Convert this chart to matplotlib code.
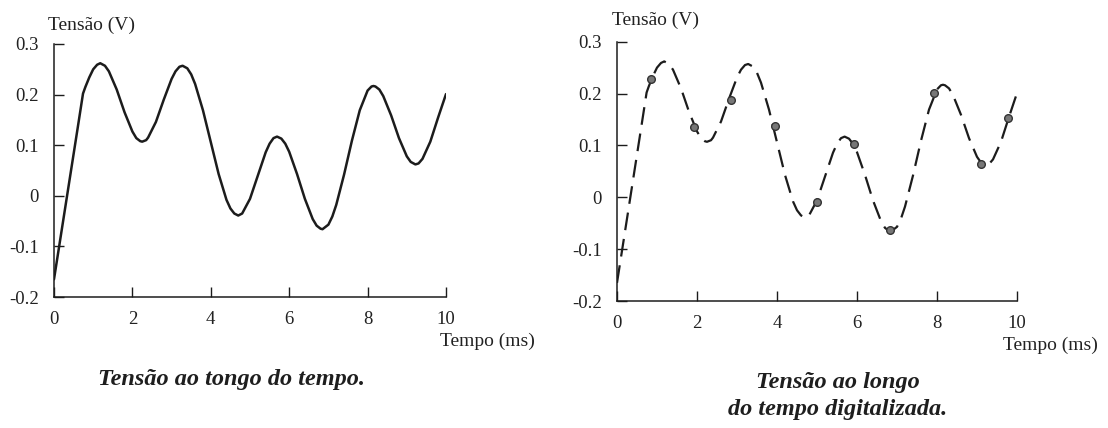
import matplotlib.pyplot as plt

# curva (ms, V)
tempo = [0, 0.2, 0.4, 0.6, 0.74, 0.8, 0.9, 1.0, 1.1, 1.18, 1.3, 1.4, 1.6, 1.8,
         2.0, 2.1, 2.2, 2.25, 2.35, 2.4, 2.6, 2.8, 3.0, 3.1, 3.2, 3.28, 3.4,
         3.5, 3.6, 3.8, 4.0, 4.2, 4.4, 4.5, 4.6, 4.7, 4.8, 5.0, 5.2, 5.4, 5.5,
         5.6, 5.69, 5.8, 5.9, 6.0, 6.2, 6.4, 6.6, 6.7, 6.8, 6.85, 7.0, 7.1,
         7.2, 7.4, 7.6, 7.8, 8.0, 8.1, 8.15, 8.2, 8.3, 8.4, 8.6, 8.8, 9.0,
         9.1, 9.22, 9.3, 9.4, 9.6, 9.8, 10.0]
tensao = [-0.165, -0.066, 0.033, 0.132, 0.202, 0.215, 0.234, 0.250, 0.259,
          0.262, 0.257, 0.246, 0.210, 0.165, 0.127, 0.114, 0.108, 0.107,
          0.110, 0.115, 0.146, 0.190, 0.231, 0.246, 0.255, 0.257, 0.252,
          0.240, 0.221, 0.169, 0.106, 0.043, -0.008, -0.025, -0.035, -0.039,
          -0.035, -0.006, 0.040, 0.086, 0.103, 0.114, 0.117, 0.113, 0.103,
          0.087, 0.043, -0.006, -0.046, -0.059, -0.065, -0.066, -0.057,
          -0.041, -0.018, 0.042, 0.109, 0.169, 0.208, 0.216, 0.217, 0.216,
          0.210, 0.197, 0.159, 0.114, 0.078, 0.067, 0.062, 0.064, 0.073,
          0.107, 0.155, 0.201]

# amostras (pontos do sinal digitalizado)
amostra_t = [0.84, 1.92, 2.85, 3.94, 5.0, 5.92, 6.82, 7.93, 9.09, 9.78]
amostra_v = [0.228, 0.135, 0.188, 0.137, -0.009, 0.102, -0.064, 0.202, 0.065, 0.153]

ticks_x = [0, 2, 4, 6, 8, 10]
ticks_y = [-0.2, -0.1, 0, 0.1, 0.2, 0.3]
rotulos_y = ['-0.2', '-0.1', '0', '0.1', '0.2', '0.3']

COR = '#1c1c1c'
W, H = 1108, 428

plt.rcParams['font.family'] = ['Liberation Serif', 'DejaVu Serif']

fig = plt.figure(figsize=(W / 100, H / 100), dpi=100)


def eixo(x0, y_topo, x1, y_base):
    # posicao em pixels da figura original
    ax = fig.add_axes([x0 / W, 1 - y_base / H, (x1 - x0) / W, (y_base - y_topo) / H])
    ax.set_xlim(0, 10)
    ax.set_ylim(-0.2, 0.3)
    for lado in ['top', 'right']:
        ax.spines[lado].set_visible(False)
    for lado in ['left', 'bottom']:
        ax.spines[lado].set_linewidth(1.1)
        ax.spines[lado].set_color(COR)
    ax.set_xticks(ticks_x)
    ax.set_xticklabels([str(t) for t in ticks_x])
    ax.set_yticks(ticks_y)
    ax.set_yticklabels(rotulos_y)
    ax.tick_params(direction='in', length=7, width=1.0, labelsize=13.5,
                   color=COR, labelcolor='#222222')
    ax.tick_params(axis='x', pad=10)
    ax.tick_params(axis='y', pad=11)
    ax.patch.set_alpha(0)
    return ax


ax1 = eixo(54, 44, 446, 297)
ax1.plot(tempo, tensao, color=COR, linewidth=1.8, solid_capstyle='round',
         solid_joinstyle='round')

ax2 = eixo(617, 41.7, 1017, 301)
ax2.plot(tempo, tensao, color=COR, linewidth=1.6, linestyle=(0, (8, 4)))
ax2.plot(amostra_t, amostra_v, linestyle='none', marker='o', markersize=5.5,
         markerfacecolor='#777777', markeredgecolor='#333333',
         markeredgewidth=1.0, zorder=5)

# rotulos dos eixos
fig.text(92 / W, 1 - 25 / H, 'Tensão (V)', ha='center', va='center',
         fontsize=14, color='#222222')
fig.text(655 / W, 1 - 20 / H, 'Tensão (V)', ha='center', va='center',
         fontsize=14, color='#222222')
fig.text(440 / W, 1 - 341 / H, 'Tempo (ms)', ha='left', va='center',
         fontsize=14, color='#222222')
fig.text(1003 / W, 1 - 345 / H, 'Tempo (ms)', ha='left', va='center',
         fontsize=14, color='#222222')

# legendas
fig.text(232 / W, 1 - 380 / H, 'Tensão ao tongo do tempo.', ha='center',
         va='center', fontsize=17.5, style='italic', weight='bold',
         color='#1e1e1e')
fig.text(838 / W, 1 - 396 / H, 'Tensão ao longo\ndo tempo digitalizada.',
         ha='center', va='center', multialignment='center', linespacing=1.4,
         fontsize=17.5, style='italic', weight='bold', color='#1e1e1e')

fig.savefig('out.png', dpi=100)
